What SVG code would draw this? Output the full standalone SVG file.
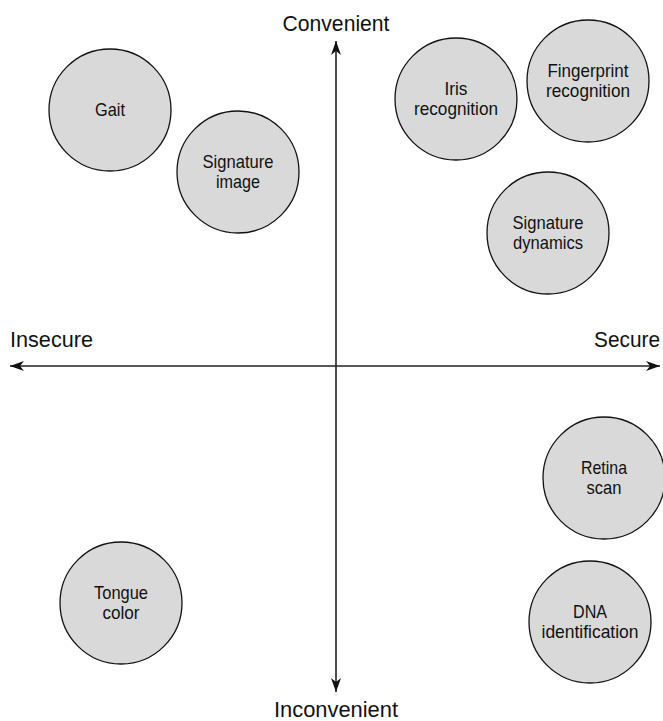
<svg xmlns="http://www.w3.org/2000/svg" width="663" height="721" viewBox="0 0 663 721">
<style>
.bg{fill:#ffffff}
.node circle{fill:#d9d9d9;stroke:#111;stroke-width:1.3}
.node text{font-family:"Liberation Sans",Arial,sans-serif;font-size:18.5px;fill:#111;text-anchor:middle}
.axis{stroke:#222;stroke-width:1.6;fill:none}
.lbl{font-family:"Liberation Sans",Arial,sans-serif;font-size:22px;fill:#111}
</style>
<defs>
<marker id="arr" viewBox="-15 -6 16 12" refX="0" refY="0" markerWidth="16" markerHeight="12" markerUnits="userSpaceOnUse" orient="auto">
<path d="M0,0 L-14,-5 L-10,0 L-14,5 Z" fill="#111"/>
</marker>
</defs>
<rect class="bg" x="0" y="0" width="663" height="721"/>
<g id="connectors">
<line class="axis" x1="336" y1="366" x2="336" y2="41" marker-end="url(#arr)"/>
<line class="axis" x1="336" y1="366" x2="336" y2="692" marker-end="url(#arr)"/>
<line class="axis" x1="336" y1="366" x2="10" y2="366" marker-end="url(#arr)"/>
<line class="axis" x1="336" y1="366" x2="660" y2="366" marker-end="url(#arr)"/>
</g>
<g id="axis-labels">
<text class="lbl" x="336" y="31" text-anchor="middle" textLength="107" lengthAdjust="spacingAndGlyphs">Convenient</text>
<text class="lbl" x="10" y="347" textLength="83" lengthAdjust="spacingAndGlyphs">Insecure</text>
<text class="lbl" x="660" y="347" text-anchor="end" textLength="66" lengthAdjust="spacingAndGlyphs">Secure</text>
<text class="lbl" x="336" y="717" text-anchor="middle" textLength="124" lengthAdjust="spacingAndGlyphs">Inconvenient</text>
</g>
<g id="gait" class="node">
<circle cx="110" cy="110" r="61"/>
<text x="110" y="116" textLength="30" lengthAdjust="spacingAndGlyphs">Gait</text>
</g>
<g id="signature-image" class="node">
<circle cx="238" cy="172" r="61"/>
<text x="238" y="168" textLength="71" lengthAdjust="spacingAndGlyphs">Signature</text>
<text x="238" y="188" textLength="44" lengthAdjust="spacingAndGlyphs">image</text>
</g>
<g id="iris" class="node">
<circle cx="456" cy="99" r="61"/>
<text x="456" y="95" textLength="23" lengthAdjust="spacingAndGlyphs">Iris</text>
<text x="456" y="115" textLength="84" lengthAdjust="spacingAndGlyphs">recognition</text>
</g>
<g id="fingerprint" class="node">
<circle cx="588" cy="81" r="61"/>
<text x="588" y="77" textLength="81" lengthAdjust="spacingAndGlyphs">Fingerprint</text>
<text x="588" y="97" textLength="84" lengthAdjust="spacingAndGlyphs">recognition</text>
</g>
<g id="signature-dynamics" class="node">
<circle cx="548" cy="233" r="61"/>
<text x="548" y="229" textLength="71" lengthAdjust="spacingAndGlyphs">Signature</text>
<text x="548" y="249" textLength="70" lengthAdjust="spacingAndGlyphs">dynamics</text>
</g>
<g id="retina" class="node">
<circle cx="604" cy="478" r="61"/>
<text x="604" y="474" textLength="46" lengthAdjust="spacingAndGlyphs">Retina</text>
<text x="604" y="494" textLength="35" lengthAdjust="spacingAndGlyphs">scan</text>
</g>
<g id="tongue" class="node">
<circle cx="121" cy="603" r="61"/>
<text x="121" y="599" textLength="54" lengthAdjust="spacingAndGlyphs">Tongue</text>
<text x="121" y="619" textLength="37" lengthAdjust="spacingAndGlyphs">color</text>
</g>
<g id="dna" class="node">
<circle cx="590" cy="622" r="61"/>
<text x="590" y="618" textLength="34" lengthAdjust="spacingAndGlyphs">DNA</text>
<text x="590" y="638" textLength="97" lengthAdjust="spacingAndGlyphs">identification</text>
</g>
</svg>
